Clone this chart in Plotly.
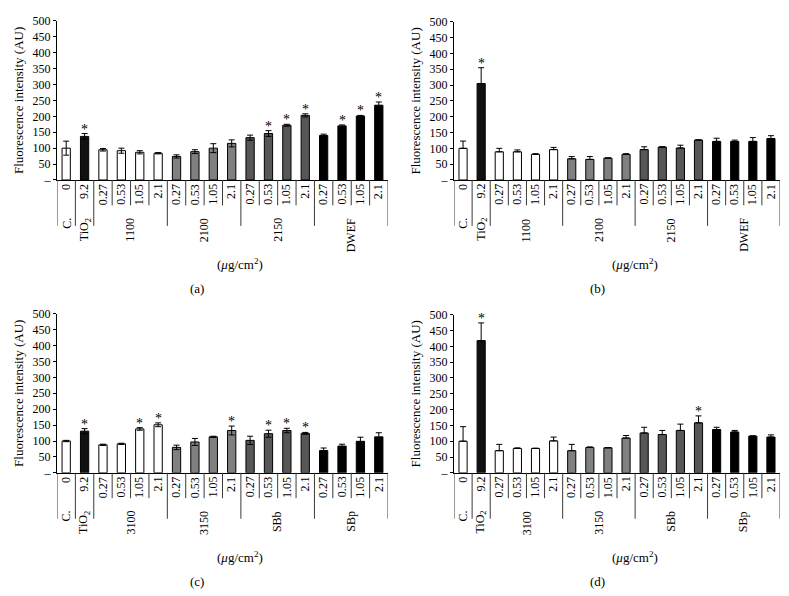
import plotly.graph_objects as go

# page offset: the browser body has an 8px margin, so the figure is drawn 8px in
OFF = 8
W, H = 789 - OFF, 596 - OFF

# ---------------- data ----------------
doses = ["0", "9.2"] + ["0.27", "0.53", "1.05", "2.1"] * 4
group_sizes = [1, 1, 4, 4, 4, 4]
groups_ab = ["C.", "TiO<sub>2</sub>", "1100", "2100", "2150", "DWEF"]
groups_cd = ["C.", "TiO<sub>2</sub>", "3100", "3150", "SBb", "SBp"]
group_fill = ["#ffffff", "#111111", "#ffffff", "#808080", "#575757", "#000000"]

values_a = [100, 137, 95, 92, 87, 84, 74, 89, 100, 115, 133, 146, 172, 203, 140, 170, 201, 235]
err_a = [22, 9, 4, 8, 5, 2, 5, 6, 14, 11, 8, 9, 3, 5, 4, 3, 2, 10]
sig_a = [0, 1, 0, 0, 0, 0, 0, 0, 0, 0, 0, 1, 1, 1, 0, 1, 1, 1]

values_b = [100, 305, 89, 89, 81, 96, 67, 65, 69, 81, 96, 104, 101, 126, 122, 122, 122, 131]
err_b = [23, 50, 11, 6, 2, 7, 7, 9, 1, 2, 9, 1, 9, 1, 10, 4, 12, 9]
sig_b = [0, 1, 0, 0, 0, 0, 0, 0, 0, 0, 0, 0, 0, 0, 0, 0, 0, 0]

values_c = [100, 131, 88, 91, 138, 151, 80, 97, 113, 133, 102, 123, 133, 124, 70, 84, 99, 113]
err_c = [2, 8, 2, 2, 4, 6, 7, 11, 2, 14, 13, 11, 7, 3, 8, 6, 13, 13]
sig_c = [0, 1, 0, 0, 1, 1, 0, 0, 0, 1, 0, 1, 1, 1, 0, 0, 0, 0]

values_d = [100, 418, 70, 77, 77, 101, 70, 80, 79, 110, 126, 121, 134, 158, 137, 129, 116, 113]
err_d = [46, 56, 20, 2, 1, 12, 20, 2, 1, 8, 18, 13, 20, 22, 7, 5, 1, 7]
sig_d = [0, 1, 0, 0, 0, 0, 0, 0, 0, 0, 0, 0, 0, 1, 0, 0, 0, 0]

y_ticks = [0, 50, 100, 150, 200, 250, 300, 350, 400, 450, 500]
y_ticktext = ["–"] + [str(v) for v in y_ticks[1:]]
y_title = "Fluorescence intensity (AU)"
unit_label = "(<i>μ</i>g/cm<sup>2</sup>)"

# ---------------- layout geometry (page pixels) ----------------
panels = [
    dict(key="", letter="(a)", vals=values_a, err=err_a, sig=sig_a, groups=groups_ab,
         x0=57, x1=388, ytop=14, ybot=177, sym=True, unit_x=240, letter_x=197),
    dict(key="2", letter="(b)", vals=values_b, err=err_b, sig=sig_b, groups=groups_ab,
         x0=454, x1=780, ytop=15, ybot=177, sym=False, unit_x=635, letter_x=597),
    dict(key="3", letter="(c)", vals=values_c, err=err_c, sig=sig_c, groups=groups_cd,
         x0=57, x1=388, ytop=314, ybot=477, sym=True, unit_x=240, letter_x=197),
    dict(key="4", letter="(d)", vals=values_d, err=err_d, sig=sig_d, groups=groups_cd,
         x0=454, x1=780, ytop=315, ybot=477, sym=False, unit_x=635, letter_x=597),
]

FONT = "Liberation Serif, Times New Roman, serif"


def px(x):
    return (x - OFF) / W


def py(y):
    return 1 - (y - OFF) / H


fig = go.Figure()
annotations = []
shapes = []

bar_colors = []
for g, n in enumerate(group_sizes):
    bar_colors += [group_fill[g]] * n
xs = list(range(len(doses)))

bounds = [0]
for n in group_sizes:
    bounds.append(bounds[-1] + n)

for p in panels:
    k = p["key"]
    xa, ya = "x" + k, "y" + k
    if p["sym"]:
        ey = dict(type="data", array=p["err"], visible=True, color="black",
                  thickness=1, width=3)
    else:
        ey = dict(type="data", array=p["err"], arrayminus=[0] * len(p["err"]),
                  symmetric=False, visible=True, color="black", thickness=1, width=3)
    fig.add_trace(go.Bar(
        x=xs, y=p["vals"], xaxis=xa, yaxis=ya, width=0.45,
        marker=dict(color=bar_colors, line=dict(color="black", width=1)),
        error_y=ey, showlegend=False, hoverinfo="skip",
    ))

    fig.layout["xaxis" + k] = dict(
        domain=[px(p["x0"]), px(p["x1"])], range=[-0.5, len(doses) - 0.5],
        anchor=ya, showline=True, linecolor="black", linewidth=1,
        showticklabels=False, ticks="", showgrid=False, zeroline=False, fixedrange=True,
    )
    fig.layout["yaxis" + k] = dict(
        domain=[py(p["ybot"]), py(p["ytop"])], range=[0, 500],
        anchor=xa, showline=True, linecolor="black", linewidth=1,
        tickvals=y_ticks, ticktext=y_ticktext, ticks="outside", ticklen=3,
        tickcolor="black", tickfont=dict(family=FONT, size=12, color="black"),
        showgrid=False, zeroline=False, fixedrange=True,
        title=dict(text=y_title, font=dict(family=FONT, size=13, color="black"),
                   standoff=6),
    )

    yb = p["ybot"]
    # dose labels (first level)
    for i, d in enumerate(doses):
        annotations.append(dict(
            x=i, xref=xa, y=py(yb + 3), yref="paper", text=d, textangle=-90,
            showarrow=False, xanchor="center", yanchor="top",
            font=dict(family=FONT, size=12, color="black"), borderpad=0,
        ))
    # separators
    for b in range(len(doses) + 1):
        long = b in bounds
        shapes.append(dict(
            type="line", xref=xa, yref="paper", x0=b - 0.5, x1=b - 0.5,
            y0=py(yb), y1=py(yb + (47 if long else 26)),
            line=dict(color="#3a3a3a", width=1),
        ))
    # group labels (second level)
    for g, name in enumerate(p["groups"]):
        c = (bounds[g] + bounds[g + 1] - 1) / 2
        annotations.append(dict(
            x=c, xref=xa, y=py(yb + 38), yref="paper", text=name, textangle=-90,
            showarrow=False, xanchor="center", yanchor="top",
            font=dict(family=FONT, size=12, color="black"), borderpad=0,
        ))
    # significance stars
    for i, s in enumerate(p["sig"]):
        if s:
            annotations.append(dict(
                x=i, xref=xa, y=p["vals"][i] + p["err"][i], yref=ya, text="*",
                showarrow=False, xanchor="center", yanchor="bottom", yshift=-4,
                font=dict(family=FONT, size=14, color="black"), borderpad=0,
            ))
    # unit label and panel letter
    annotations.append(dict(
        x=px(p["unit_x"]), xref="paper", y=py(yb + 86), yref="paper", text=unit_label,
        showarrow=False, xanchor="center", yanchor="middle",
        font=dict(family=FONT, size=13, color="black"),
    ))
    annotations.append(dict(
        x=px(p["letter_x"]), xref="paper", y=py(yb + 111), yref="paper", text=p["letter"],
        showarrow=False, xanchor="center", yanchor="middle",
        font=dict(family=FONT, size=13, color="black"),
    ))

fig.update_layout(
    width=W, height=H, margin=dict(l=0, r=0, t=0, b=0),
    paper_bgcolor="white", plot_bgcolor="white",
    annotations=annotations, shapes=shapes,
    font=dict(family=FONT, color="black"),
)

fig.write_html("out.html")
